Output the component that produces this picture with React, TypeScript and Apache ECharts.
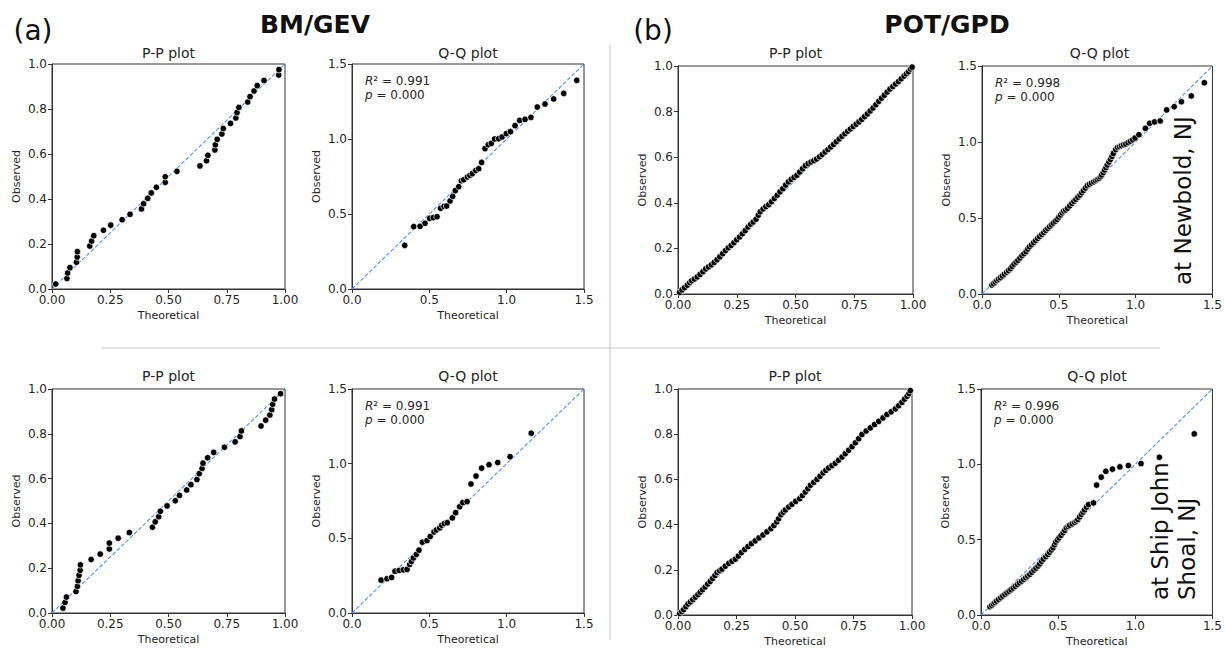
import React, { useEffect, useRef } from "react";
import * as echarts from "echarts";

// ---------- data ----------
const ppTicksX = [0, 0.25, 0.5, 0.75, 1.0];
const ppTicksY = [0, 0.2, 0.4, 0.6, 0.8, 1.0];
const qqTicks = [0, 0.5, 1.0, 1.5];
const ppDiag = [[0, 0], [1, 1]];
const qqDiag = [[0, 0], [1.5, 1.5]];

const ppBmTopX = [0.016,0.064,0.067,0.077,0.105,0.108,0.109,0.162,0.170,0.179,0.221,0.252,0.301,0.335,0.384,0.393,0.411,0.426,0.448,0.486,0.486,0.536,0.635,0.663,0.669,0.699,0.701,0.709,0.729,0.735,0.766,0.789,0.794,0.802,0.840,0.850,0.867,0.881,0.910,0.973,0.974];
const ppBmTopY = [0.022,0.047,0.071,0.095,0.119,0.142,0.166,0.191,0.213,0.237,0.261,0.284,0.308,0.332,0.356,0.379,0.403,0.427,0.452,0.474,0.499,0.523,0.547,0.570,0.594,0.618,0.641,0.665,0.689,0.713,0.736,0.760,0.784,0.807,0.831,0.855,0.880,0.904,0.927,0.951,0.975];

const qqBmTopX = [0.341,0.399,0.440,0.472,0.502,0.526,0.550,0.573,0.595,0.612,0.634,0.651,0.668,0.690,0.707,0.722,0.746,0.762,0.778,0.800,0.819,0.838,0.860,0.881,0.901,0.922,0.948,0.970,0.998,1.024,1.054,1.084,1.119,1.157,1.198,1.248,1.304,1.369,1.453];
const qqBmTopY = [0.291,0.416,0.418,0.438,0.471,0.476,0.482,0.538,0.551,0.553,0.587,0.618,0.656,0.682,0.722,0.728,0.747,0.758,0.769,0.790,0.802,0.844,0.936,0.962,0.971,1.000,1.002,1.013,1.036,1.049,1.089,1.124,1.131,1.144,1.213,1.233,1.267,1.304,1.391];

const ppBmBotX = [0.047,0.056,0.062,0.103,0.109,0.112,0.116,0.121,0.122,0.168,0.207,0.246,0.246,0.284,0.332,0.431,0.443,0.458,0.465,0.494,0.529,0.547,0.578,0.596,0.622,0.632,0.644,0.648,0.668,0.694,0.740,0.786,0.807,0.813,0.897,0.917,0.935,0.943,0.947,0.955,0.981];
const ppBmBotY = [0.022,0.047,0.071,0.096,0.119,0.144,0.168,0.191,0.215,0.239,0.263,0.286,0.312,0.334,0.359,0.383,0.407,0.430,0.454,0.478,0.501,0.525,0.549,0.573,0.596,0.622,0.645,0.669,0.693,0.717,0.740,0.764,0.788,0.813,0.835,0.861,0.884,0.908,0.932,0.955,0.979];

const qqBmBotX = [0.188,0.226,0.256,0.278,0.304,0.332,0.356,0.373,0.384,0.397,0.416,0.433,0.455,0.485,0.506,0.530,0.545,0.567,0.580,0.597,0.616,0.649,0.670,0.696,0.716,0.744,0.769,0.802,0.838,0.886,0.942,1.022,1.159];
const qqBmBotY = [0.220,0.229,0.238,0.280,0.285,0.289,0.292,0.325,0.345,0.369,0.392,0.421,0.474,0.485,0.512,0.543,0.556,0.570,0.588,0.599,0.605,0.637,0.672,0.712,0.739,0.746,0.864,0.917,0.970,0.993,1.008,1.046,1.204];

const ppPotTop = [[0.007,0.007],[0.017,0.018],[0.028,0.028],[0.040,0.039],[0.050,0.050],[0.058,0.058],[0.070,0.066],[0.082,0.075],[0.094,0.086],[0.106,0.098],[0.118,0.110],[0.130,0.119],[0.142,0.128],[0.154,0.138],[0.166,0.150],[0.178,0.163],[0.190,0.177],[0.202,0.191],[0.214,0.203],[0.226,0.213],[0.238,0.225],[0.250,0.238],[0.262,0.250],[0.274,0.264],[0.286,0.278],[0.298,0.294],[0.309,0.306],[0.320,0.316],[0.332,0.328],[0.342,0.346],[0.350,0.361],[0.362,0.373],[0.374,0.383],[0.386,0.392],[0.398,0.405],[0.410,0.419],[0.422,0.433],[0.434,0.448],[0.446,0.462],[0.458,0.478],[0.470,0.492],[0.482,0.503],[0.494,0.512],[0.506,0.521],[0.518,0.535],[0.530,0.550],[0.542,0.563],[0.554,0.572],[0.566,0.579],[0.578,0.585],[0.590,0.592],[0.602,0.602],[0.614,0.612],[0.626,0.623],[0.638,0.634],[0.650,0.645],[0.662,0.656],[0.674,0.668],[0.686,0.680],[0.698,0.692],[0.710,0.703],[0.722,0.714],[0.734,0.724],[0.746,0.735],[0.758,0.745],[0.770,0.755],[0.782,0.766],[0.794,0.778],[0.806,0.790],[0.818,0.803],[0.830,0.816],[0.842,0.830],[0.854,0.845],[0.866,0.859],[0.878,0.872],[0.890,0.886],[0.902,0.899],[0.914,0.910],[0.926,0.921],[0.938,0.932],[0.950,0.944],[0.962,0.956],[0.972,0.966],[0.981,0.975],[0.989,0.987],[0.996,0.995]];

const qqPotTop = [[0.064,0.059],[0.075,0.068],[0.086,0.079],[0.097,0.089],[0.108,0.099],[0.120,0.108],[0.133,0.119],[0.146,0.131],[0.160,0.143],[0.172,0.155],[0.185,0.167],[0.197,0.182],[0.209,0.197],[0.222,0.210],[0.234,0.222],[0.247,0.237],[0.260,0.252],[0.273,0.265],[0.287,0.279],[0.298,0.296],[0.309,0.311],[0.322,0.324],[0.336,0.338],[0.349,0.352],[0.362,0.366],[0.375,0.379],[0.389,0.392],[0.402,0.405],[0.415,0.419],[0.428,0.431],[0.440,0.443],[0.452,0.455],[0.464,0.467],[0.477,0.479],[0.489,0.491],[0.500,0.506],[0.511,0.520],[0.522,0.534],[0.532,0.546],[0.545,0.553],[0.557,0.564],[0.571,0.580],[0.585,0.596],[0.598,0.610],[0.611,0.623],[0.624,0.637],[0.638,0.651],[0.649,0.666],[0.660,0.680],[0.673,0.697],[0.685,0.713],[0.699,0.722],[0.713,0.730],[0.727,0.738],[0.740,0.746],[0.751,0.753],[0.762,0.761],[0.771,0.771],[0.779,0.783],[0.789,0.799],[0.798,0.816],[0.807,0.832],[0.815,0.849],[0.826,0.868],[0.836,0.886],[0.846,0.906],[0.855,0.925],[0.870,0.950],[0.883,0.965],[0.896,0.970],[0.908,0.976],[0.922,0.982],[0.936,0.987],[0.951,0.996],[0.966,1.005],[0.981,1.015],[0.996,1.026],[1.021,1.048],[1.064,1.090],[1.091,1.123],[1.123,1.132],[1.160,1.138],[1.202,1.211],[1.251,1.232],[1.298,1.265],[1.362,1.303],[1.447,1.390]];

const ppPotBot = [[0.007,0.007],[0.016,0.015],[0.024,0.024],[0.034,0.037],[0.043,0.049],[0.053,0.058],[0.063,0.068],[0.074,0.079],[0.085,0.090],[0.095,0.101],[0.105,0.112],[0.116,0.124],[0.127,0.137],[0.138,0.149],[0.148,0.162],[0.158,0.175],[0.167,0.188],[0.178,0.196],[0.188,0.203],[0.202,0.216],[0.217,0.229],[0.231,0.238],[0.245,0.247],[0.258,0.261],[0.271,0.276],[0.285,0.290],[0.299,0.303],[0.314,0.316],[0.330,0.328],[0.346,0.341],[0.363,0.354],[0.380,0.368],[0.397,0.382],[0.410,0.396],[0.422,0.412],[0.430,0.426],[0.440,0.444],[0.450,0.455],[0.459,0.465],[0.473,0.478],[0.487,0.490],[0.503,0.503],[0.520,0.515],[0.532,0.529],[0.544,0.544],[0.555,0.559],[0.566,0.574],[0.580,0.587],[0.594,0.600],[0.607,0.614],[0.620,0.629],[0.632,0.640],[0.644,0.651],[0.658,0.661],[0.672,0.671],[0.686,0.685],[0.701,0.699],[0.715,0.714],[0.729,0.729],[0.744,0.745],[0.758,0.762],[0.772,0.780],[0.786,0.799],[0.804,0.814],[0.822,0.828],[0.840,0.843],[0.858,0.857],[0.876,0.872],[0.893,0.887],[0.911,0.899],[0.929,0.912],[0.943,0.926],[0.957,0.941],[0.968,0.955],[0.979,0.968],[0.987,0.980],[0.993,0.993]];

const qqPotBot = [[0.058,0.055],[0.069,0.064],[0.080,0.074],[0.090,0.083],[0.101,0.093],[0.114,0.104],[0.128,0.115],[0.141,0.126],[0.155,0.137],[0.168,0.147],[0.182,0.158],[0.195,0.168],[0.209,0.179],[0.222,0.191],[0.236,0.202],[0.249,0.214],[0.263,0.225],[0.276,0.236],[0.290,0.248],[0.303,0.259],[0.316,0.270],[0.330,0.284],[0.343,0.298],[0.356,0.311],[0.370,0.325],[0.381,0.340],[0.393,0.356],[0.404,0.371],[0.420,0.387],[0.433,0.402],[0.445,0.417],[0.456,0.432],[0.467,0.446],[0.476,0.466],[0.484,0.484],[0.495,0.498],[0.506,0.512],[0.519,0.529],[0.532,0.546],[0.543,0.562],[0.553,0.579],[0.565,0.588],[0.575,0.596],[0.591,0.605],[0.607,0.614],[0.618,0.624],[0.628,0.634],[0.639,0.651],[0.650,0.667],[0.661,0.683],[0.671,0.698],[0.684,0.716],[0.697,0.733],[0.729,0.744],[0.749,0.862],[0.779,0.915],[0.809,0.954],[0.852,0.968],[0.900,0.983],[0.955,0.992],[1.037,1.005],[1.156,1.047],[1.382,1.202]];

const r2Labels = ["0.991", "0.991", "0.998", "0.996"];
const pLabels = ["0.000", "0.000", "0.000", "0.000"];

const zip = (xs: number[], ys: number[]) => xs.map((x, i) => [x, ys[i]]);

// ---------- layout ----------
type Panel = {
  left: number; top: number; width: number; height: number;
  kind: "pp" | "qq"; data: number[][]; statIdx?: number;
};

const panels: Panel[] = [
  { left: 52, top: 64, width: 233, height: 225, kind: "pp", data: zip(ppBmTopX, ppBmTopY) },
  { left: 352, top: 64, width: 232, height: 225, kind: "qq", data: zip(qqBmTopX, qqBmTopY), statIdx: 0 },
  { left: 52, top: 389, width: 233, height: 224, kind: "pp", data: zip(ppBmBotX, ppBmBotY) },
  { left: 352, top: 389, width: 232, height: 224, kind: "qq", data: zip(qqBmBotX, qqBmBotY), statIdx: 1 },
  { left: 678, top: 66, width: 235, height: 228, kind: "pp", data: ppPotTop },
  { left: 982, top: 66, width: 235, height: 228, kind: "qq", data: qqPotTop, statIdx: 2 },
  { left: 678, top: 389, width: 234, height: 227, kind: "pp", data: ppPotBot },
  { left: 981, top: 389, width: 232, height: 227, kind: "qq", data: qqPotBot, statIdx: 3 },
];

const FONT = "DejaVu Sans";
const AX = "#333";
const TXT = "#262626";

export default function App() {
  const ref = useRef<HTMLDivElement>(null);
  useEffect(() => {
    if (!ref.current) return;
    const chart = echarts.init(ref.current, undefined, { renderer: "svg" });

    const grid = panels.map((p) => ({
      left: p.left, top: p.top, width: p.width, height: p.height,
      show: true, borderColor: AX, borderWidth: 1, backgroundColor: "transparent",
    }));

    const xAxis = panels.map((p, i) => {
      const pp = p.kind === "pp";
      const ticks = pp ? ppTicksX : qqTicks;
      return {
        gridIndex: i, type: "value", min: 0, max: ticks[ticks.length - 1],
        interval: ticks[1] - ticks[0],
        axisLine: { show: true, lineStyle: { color: AX, width: 1 } },
        axisTick: { show: true, length: 4, lineStyle: { color: AX } },
        axisLabel: {
          fontSize: 12, color: TXT, margin: 5, fontFamily: FONT,
          showMinLabel: true, showMaxLabel: true, hideOverlap: false,
          formatter: (v: number) => v.toFixed(pp ? 2 : 1),
        },
        splitLine: { show: false },
        name: "Theoretical", nameLocation: "middle", nameGap: 21,
        nameTextStyle: { fontSize: 11, color: TXT, fontFamily: FONT },
      };
    });

    const yAxis = panels.map((p, i) => {
      const pp = p.kind === "pp";
      const ticks = pp ? ppTicksY : qqTicks;
      return {
        gridIndex: i, type: "value", min: 0, max: ticks[ticks.length - 1],
        interval: ticks[1] - ticks[0],
        axisLine: { show: true, lineStyle: { color: AX, width: 1 } },
        axisTick: { show: true, length: 4, lineStyle: { color: AX } },
        axisLabel: {
          fontSize: 12, color: TXT, margin: 5, fontFamily: FONT,
          showMinLabel: true, showMaxLabel: true, hideOverlap: false,
          formatter: (v: number) => v.toFixed(1),
        },
        splitLine: { show: false },
        name: "Observed", nameLocation: "middle", nameGap: 30,
        nameTextStyle: { fontSize: 11, color: TXT, fontFamily: FONT },
      };
    });

    const series: any[] = [];
    panels.forEach((p, i) => {
      series.push({
        type: "line", xAxisIndex: i, yAxisIndex: i,
        data: p.kind === "pp" ? ppDiag : qqDiag,
        symbol: "none", silent: true, z: 1,
        lineStyle: { color: "#4f93f0", width: 1.1, type: [4, 2] },
      });
      series.push({
        type: "scatter", xAxisIndex: i, yAxisIndex: i, data: p.data,
        symbol: "circle", symbolSize: 6.5, z: 3,
        itemStyle: { color: "#000", borderColor: "#fff", borderWidth: 0.7, opacity: 1 },
      });
    });

    const graphic: any[] = [];
    graphic.push({ type: "line", shape: { x1: 610, y1: 45, x2: 610, y2: 640 }, style: { stroke: "#c8c8c8", lineWidth: 1 } });
    graphic.push({ type: "line", shape: { x1: 101, y1: 348, x2: 1160, y2: 348 }, style: { stroke: "#c8c8c8", lineWidth: 1 } });
    const hdr = (text: string, x: number, y: number, size: number, weight: string) => ({
      type: "text", x, y,
      style: { text, fontSize: size, fontWeight: weight, fontFamily: FONT, fill: "#111", textAlign: "center", textVerticalAlign: "middle" },
    });
    graphic.push(hdr("(a)", 33, 30, 28, "normal"));
    graphic.push(hdr("BM/GEV", 315, 24, 25, "bold"));
    graphic.push(hdr("(b)", 653, 30, 28, "normal"));
    graphic.push(hdr("POT/GPD", 947, 24, 25, "bold"));
    panels.forEach((p) => {
      const ty = p.top < 200 ? 53 : 376;
      graphic.push({
        type: "text", x: p.left + p.width / 2, y: ty,
        style: { text: p.kind === "pp" ? "P-P plot" : "Q-Q plot", fontSize: 14, fontFamily: FONT, fill: TXT, textAlign: "center", textVerticalAlign: "middle" },
      });
      if (p.statIdx !== undefined) {
        const rich = {
          i: { fontStyle: "italic", fontSize: 12, fontFamily: FONT, fill: TXT },
          n: { fontSize: 12, fontFamily: FONT, fill: TXT },
        };
        graphic.push({
          type: "text", x: p.left + 13, y: p.top + 17,
          style: { text: `{i|R}{n|² = ${r2Labels[p.statIdx]}}`, rich, fontSize: 12, fontFamily: FONT, fill: TXT, textAlign: "left", textVerticalAlign: "middle" },
        });
        graphic.push({
          type: "text", x: p.left + 13, y: p.top + 31,
          style: { text: `{i|p}{n| = ${pLabels[p.statIdx]}}`, rich, fontSize: 12, fontFamily: FONT, fill: TXT, textAlign: "left", textVerticalAlign: "middle" },
        });
      }
    });
    graphic.push({
      type: "text", x: 1183, y: 285, rotation: Math.PI / 2,
      style: { text: "at Newbold, NJ", fontSize: 23, fontFamily: FONT, fill: "#111", textAlign: "left", textVerticalAlign: "middle" },
    });
    graphic.push({
      type: "text", x: 1173, y: 600, rotation: Math.PI / 2,
      style: { text: "at Ship John\nShoal, NJ", fontSize: 23, lineHeight: 27, fontFamily: FONT, fill: "#111", textAlign: "left", textVerticalAlign: "middle" },
    });

    chart.setOption({
      animation: false,
      backgroundColor: "#fff",
      textStyle: { fontFamily: FONT },
      grid, xAxis, yAxis, series, graphic,
    });
    return () => chart.dispose();
  }, []);

  return <div ref={ref} style={{ position: "absolute", left: 0, top: 0, width: 1225, height: 648 }} />;
}
